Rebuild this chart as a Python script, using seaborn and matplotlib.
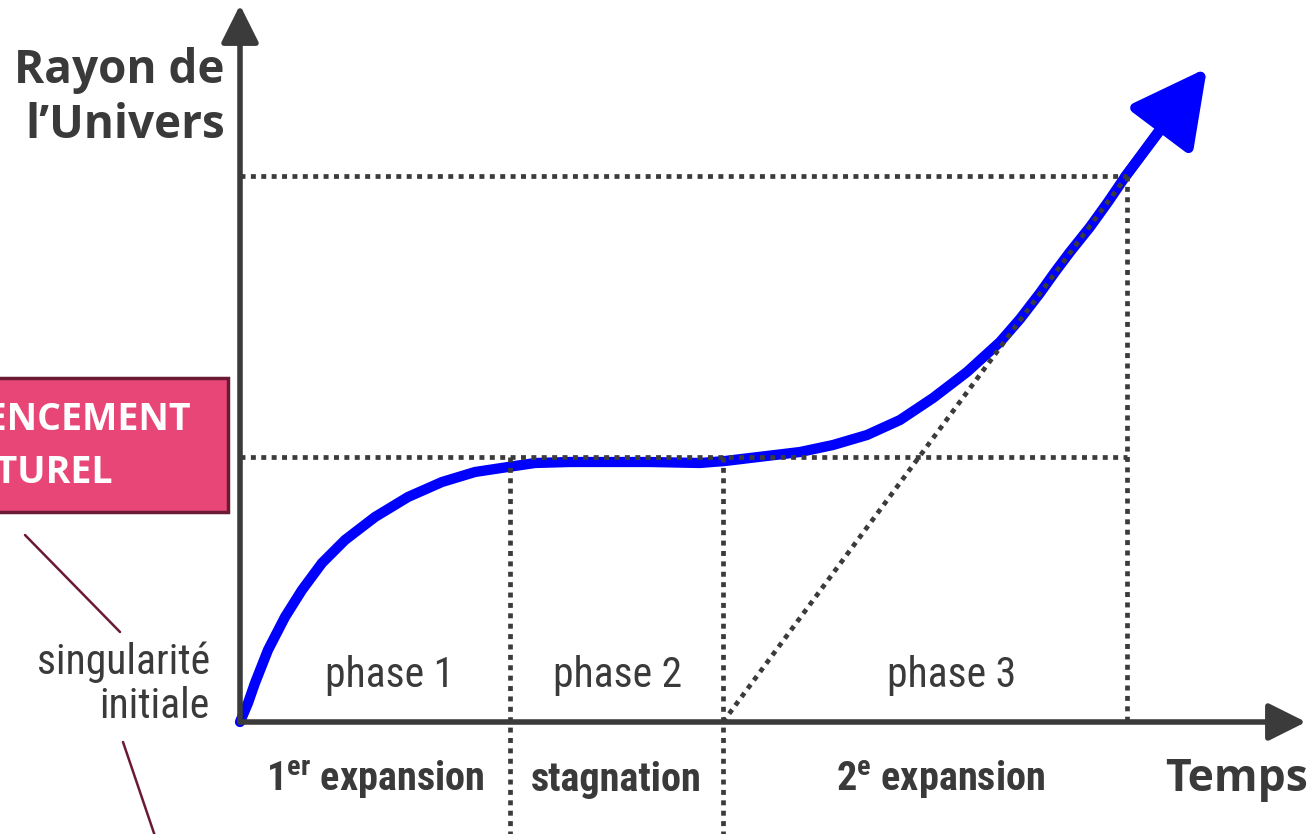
#!/usr/bin/env python3
import matplotlib
matplotlib.use("Agg")
import seaborn as sns
import pandas as pd
import matplotlib.pyplot as plt
from matplotlib import font_manager
from matplotlib.patches import Rectangle

sns.set_style('white')
plt.rcParams['font.family'] = ['Open Sans', 'DejaVu Sans']

installed = {f.name for f in font_manager.fontManager.ttflist}
NARROW = next((n for n in ['Liberation Sans Narrow', 'Roboto Condensed', 'Open Sans Condensed']
               if n in installed), None)
plt.rcParams['mathtext.fontset'] = 'custom'
plt.rcParams['mathtext.bf'] = (NARROW or 'Open Sans') + ':bold'
plt.rcParams['mathtext.rm'] = NARROW or 'Open Sans'

# radius of the universe vs time (schematic units)
time = [0.0, 0.08, 0.15, 0.28, 0.45, 0.62, 0.82, 1.05, 1.35, 1.68, 2.02, 2.35, 2.68, 2.95,
        3.30, 3.60, 4.10, 4.60, 4.85, 5.10, 5.35, 5.60, 5.93, 6.27, 6.60, 6.93, 7.27,
        7.60, 7.80, 8.00, 8.15, 8.30, 8.50, 8.68, 8.85, 9.27, 9.67]
radius = [0.0, 0.19, 0.39, 0.72, 1.05, 1.32, 1.59, 1.82, 2.05, 2.25, 2.40, 2.50, 2.55, 2.59,
          2.60, 2.60, 2.60, 2.59, 2.61, 2.64, 2.67, 2.70, 2.77, 2.87, 3.02, 3.24, 3.50,
          3.80, 4.03, 4.29, 4.50, 4.70, 4.95, 5.20, 5.45, 6.02, 6.54]

phase_bounds = [2.70, 4.83, 8.87]
plateau_level = 2.65
top_level = 5.46
axis_end = (10.66, 7.17)
view_x = (-2.40, 10.75)
view_y = (-1.12, 7.22)

phase_labels = ['phase 1', 'phase 2', 'phase 3']
phase_x = [1.50, 3.78, 7.12]
stage_labels = [r'1$^{\mathbf{er}}$ expansion', 'stagnation', r'2$^{\mathbf{e}}$ expansion']
stage_x = [1.35, 3.76, 7.01]

# pink callout box and its connector lines
box_x = (-2.60, -0.12)
box_y = (2.10, 3.44)
box_lines = ['COMMENCEMENT', 'SURNATUREL']
connectors = [((-2.15, 1.87), (-1.20, 0.90)), ((-1.17, -0.20), (-0.83, -1.20))]

AXIS_COLOR = '#3b3b3b'
TEXT_COLOR = '#3a3a3a'
BLUE = '#0000ff'

df = pd.DataFrame({'time': time, 'radius': radius})

fig = plt.figure(figsize=(13.15, 8.34), dpi=100)
ax = fig.add_axes([0, 0, 1, 1])
ax.set_xlim(*view_x)
ax.set_ylim(*view_y)
ax.axis('off')

# expansion curve
sns.lineplot(data=df.iloc[:-1], x='time', y='radius', ax=ax, sort=False,
             color=BLUE, linewidth=7.4, zorder=3)
ax.lines[-1].set_solid_joinstyle('round')
ax.annotate('', xy=(time[-1], radius[-1]), xytext=(time[-3], radius[-3]),
            arrowprops=dict(arrowstyle='-|>,head_length=46,head_width=24', mutation_scale=1,
                            color=BLUE, lw=7.4, shrinkA=0, shrinkB=0), zorder=3)

# dotted guides
dot = dict(color=AXIS_COLOR, linewidth=3.4, linestyle=(0, (1.05, 1.15)), zorder=4)
ax.plot([0, phase_bounds[2]], [plateau_level, plateau_level], **dot)
ax.plot([0, phase_bounds[2]], [top_level, top_level], **dot)
ax.plot([phase_bounds[0]] * 2, [plateau_level, view_y[0]], **dot)
ax.plot([phase_bounds[1]] * 2, [plateau_level, view_y[0]], **dot)
ax.plot([phase_bounds[2]] * 2, [top_level, 0], **dot)
ax.plot([phase_bounds[1], phase_bounds[2]], [0, top_level], **dot)

# axes with arrow heads
head = '-|>,head_length=23,head_width=11.5'
for end in [(axis_end[0], 0), (0, axis_end[1])]:
    ax.annotate('', xy=end, xytext=(0, 0),
                arrowprops=dict(arrowstyle=head, mutation_scale=1, color=AXIS_COLOR,
                                lw=4, shrinkA=0, shrinkB=0), zorder=5)

ax.text(-0.15, 6.52, 'Rayon de', ha='right', va='center', fontsize=33,
        fontweight='bold', color=TEXT_COLOR)
ax.text(-0.15, 5.97, 'l\u2019Univers', ha='right', va='center', fontsize=33,
        fontweight='bold', color=TEXT_COLOR)
ax.text(9.97, -0.58, 'Temps', ha='center', va='center', fontsize=32,
        fontweight='bold', color=TEXT_COLOR)

lab_family = NARROW or 'Open Sans'
lab_size = 30 if NARROW else 24
stage_size = 29 if NARROW else 23
for lab, x in zip(phase_labels, phase_x):
    ax.text(x, 0.46, lab, ha='center', va='center', fontsize=lab_size,
            family=lab_family, color=TEXT_COLOR)
for lab, x in zip(stage_labels, stage_x):
    ax.text(x, -0.58, lab, ha='center', va='center', fontsize=stage_size,
            family=lab_family, fontweight='bold', color=TEXT_COLOR)

ax.text(-0.30, 0.60, 'singularit\u00e9', ha='right', va='center', fontsize=lab_size,
        family=lab_family, color=TEXT_COLOR)
ax.text(-0.30, 0.16, 'initiale', ha='right', va='center', fontsize=lab_size,
        family=lab_family, color=TEXT_COLOR)

ax.add_patch(Rectangle((box_x[0], box_y[0]), box_x[1] - box_x[0], box_y[1] - box_y[0],
                       facecolor='#e84677', edgecolor='#6b1a35', linewidth=2.5, zorder=2))
ax.text(-0.48, 3.02, box_lines[0], ha='right', va='center', fontsize=27,
        fontweight='bold', color='white', zorder=3)
ax.text(-1.27, 2.49, box_lines[1], ha='right', va='center', fontsize=27,
        fontweight='bold', color='white', zorder=3)

for (x0, y0), (x1, y1) in connectors:
    ax.plot([x0, x1], [y0, y1], color='#6b1a35', linewidth=1.8, zorder=2)

fig.savefig('out.png', dpi=100)
